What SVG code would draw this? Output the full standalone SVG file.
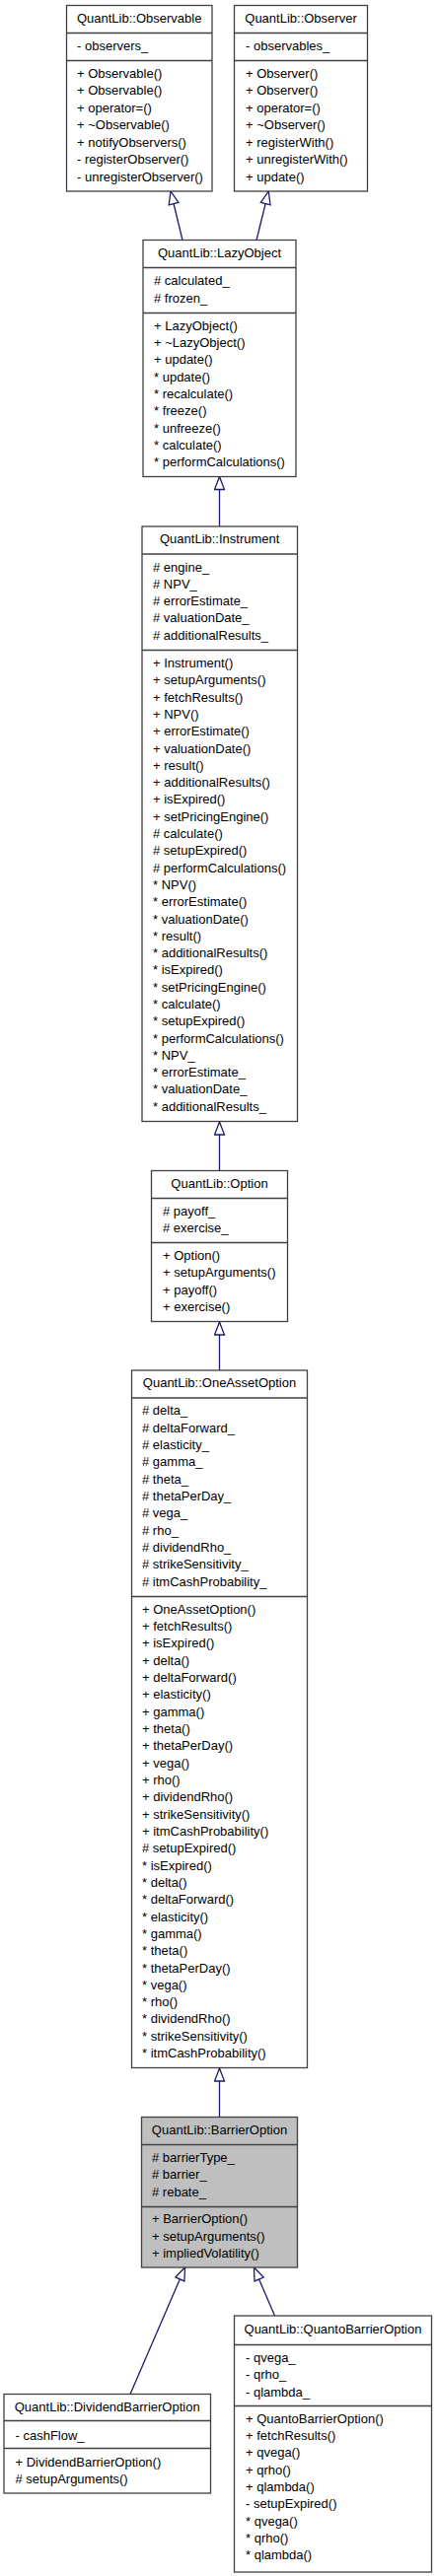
<svg xmlns="http://www.w3.org/2000/svg" width="443" height="2613" viewBox="0 0 443 2613">
<style>
.box{fill:#ffffff;stroke:#404040;stroke-width:1.3}
.hl{fill:#bfbfbf}
.sep{stroke:#404040;stroke-width:1.3}
text{font-family:"Liberation Sans",Arial,sans-serif;font-size:13px;fill:#000000}
.t{text-anchor:middle}
.edge{stroke:#191970;stroke-width:1.3;fill:none;marker-end:url(#inh)}
</style>
<defs>
<marker id="inh" markerUnits="userSpaceOnUse" viewBox="-1 -1 16 12" markerWidth="16" markerHeight="12" refX="13" refY="5" orient="auto">
<path d="M0,0 L13,5 L0,10 Z" fill="#ffffff" stroke="#191970" stroke-width="1.3"/>
</marker>
</defs>
<rect width="443" height="2613" fill="#ffffff"/>
<g id="connectors">
<path class="edge" d="M185,243.5 L173,194"/>
<path class="edge" d="M260,243.5 L272.3,194"/>
<path class="edge" d="M222.5,534 L222.5,483.5"/>
<path class="edge" d="M222.5,1187.5 L222.5,1138"/>
<path class="edge" d="M222.5,1390 L222.5,1341"/>
<path class="edge" d="M222.5,2147.5 L222.5,2098"/>
<path class="edge" d="M132,2428.5 L187.5,2300"/>
<path class="edge" d="M278.5,2349 L257.5,2300"/>
</g>
<g id="Observable">
<rect class="box" x="67.5" y="5.5" width="147.5" height="188.5"/>
<line class="sep" x1="67.5" y1="33.5" x2="215" y2="33.5"/>
<line class="sep" x1="67.5" y1="61.5" x2="215" y2="61.5"/>
<text class="t" x="141.2" y="23">QuantLib::Observable</text>
<text x="78" y="51">- observers_</text>
<text x="78" y="78.5">+ Observable()<tspan x="78" dy="17.5">+ Observable()</tspan><tspan x="78" dy="17.5">+ operator=()</tspan><tspan x="78" dy="17.5">+ ~Observable()</tspan><tspan x="78" dy="17.5">+ notifyObservers()</tspan><tspan x="78" dy="17.5">- registerObserver()</tspan><tspan x="78" dy="17.5">- unregisterObserver()</tspan></text>
</g>
<g id="Observer">
<rect class="box" x="237.5" y="5.5" width="135" height="188.5"/>
<line class="sep" x1="237.5" y1="33.5" x2="372.5" y2="33.5"/>
<line class="sep" x1="237.5" y1="61.5" x2="372.5" y2="61.5"/>
<text class="t" x="305" y="23">QuantLib::Observer</text>
<text x="249" y="51">- observables_</text>
<text x="249" y="78.5">+ Observer()<tspan x="249" dy="17.5">+ Observer()</tspan><tspan x="249" dy="17.5">+ operator=()</tspan><tspan x="249" dy="17.5">+ ~Observer()</tspan><tspan x="249" dy="17.5">+ registerWith()</tspan><tspan x="249" dy="17.5">+ unregisterWith()</tspan><tspan x="249" dy="17.5">+ update()</tspan></text>
</g>
<g id="LazyObject">
<rect class="box" x="145" y="243.5" width="155" height="240"/>
<line class="sep" x1="145" y1="271.5" x2="300" y2="271.5"/>
<line class="sep" x1="145" y1="317.5" x2="300" y2="317.5"/>
<text class="t" x="222.5" y="260.5">QuantLib::LazyObject</text>
<text x="156" y="289"># calculated_<tspan x="156" dy="17.5"># frozen_</tspan></text>
<text x="156" y="334.5">+ LazyObject()<tspan x="156" dy="17.35">+ ~LazyObject()</tspan><tspan x="156" dy="17.35">+ update()</tspan><tspan x="156" dy="17.35">* update()</tspan><tspan x="156" dy="17.35">* recalculate()</tspan><tspan x="156" dy="17.35">* freeze()</tspan><tspan x="156" dy="17.35">* unfreeze()</tspan><tspan x="156" dy="17.35">* calculate()</tspan><tspan x="156" dy="17.35">* performCalculations()</tspan></text>
</g>
<g id="Instrument">
<rect class="box" x="144" y="534" width="157.5" height="603.5"/>
<line class="sep" x1="144" y1="562" x2="301.5" y2="562"/>
<line class="sep" x1="144" y1="659.5" x2="301.5" y2="659.5"/>
<text class="t" x="222.7" y="551">QuantLib::Instrument</text>
<text x="155" y="579.5"># engine_<tspan x="155" dy="17.3"># NPV_</tspan><tspan x="155" dy="17.3"># errorEstimate_</tspan><tspan x="155" dy="17.3"># valuationDate_</tspan><tspan x="155" dy="17.3"># additionalResults_</tspan></text>
<text x="155" y="677">+ Instrument()<tspan x="155" dy="17.3">+ setupArguments()</tspan><tspan x="155" dy="17.3">+ fetchResults()</tspan><tspan x="155" dy="17.3">+ NPV()</tspan><tspan x="155" dy="17.3">+ errorEstimate()</tspan><tspan x="155" dy="17.3">+ valuationDate()</tspan><tspan x="155" dy="17.3">+ result()</tspan><tspan x="155" dy="17.3">+ additionalResults()</tspan><tspan x="155" dy="17.3">+ isExpired()</tspan><tspan x="155" dy="17.3">+ setPricingEngine()</tspan><tspan x="155" dy="17.3"># calculate()</tspan><tspan x="155" dy="17.3"># setupExpired()</tspan><tspan x="155" dy="17.3"># performCalculations()</tspan><tspan x="155" dy="17.3">* NPV()</tspan><tspan x="155" dy="17.3">* errorEstimate()</tspan><tspan x="155" dy="17.3">* valuationDate()</tspan><tspan x="155" dy="17.3">* result()</tspan><tspan x="155" dy="17.3">* additionalResults()</tspan><tspan x="155" dy="17.3">* isExpired()</tspan><tspan x="155" dy="17.3">* setPricingEngine()</tspan><tspan x="155" dy="17.3">* calculate()</tspan><tspan x="155" dy="17.3">* setupExpired()</tspan><tspan x="155" dy="17.3">* performCalculations()</tspan><tspan x="155" dy="17.3">* NPV_</tspan><tspan x="155" dy="17.3">* errorEstimate_</tspan><tspan x="155" dy="17.3">* valuationDate_</tspan><tspan x="155" dy="17.3">* additionalResults_</tspan></text>
</g>
<g id="Option">
<rect class="box" x="153.5" y="1187.5" width="138" height="153"/>
<line class="sep" x1="153.5" y1="1215.5" x2="291.5" y2="1215.5"/>
<line class="sep" x1="153.5" y1="1260.5" x2="291.5" y2="1260.5"/>
<text class="t" x="222.5" y="1204.5">QuantLib::Option</text>
<text x="165" y="1233"># payoff_<tspan x="165" dy="17.3"># exercise_</tspan></text>
<text x="165" y="1278">+ Option()<tspan x="165" dy="17.33">+ setupArguments()</tspan><tspan x="165" dy="17.33">+ payoff()</tspan><tspan x="165" dy="17.33">+ exercise()</tspan></text>
</g>
<g id="OneAssetOption">
<rect class="box" x="133.5" y="1390" width="178" height="707.5"/>
<line class="sep" x1="133.5" y1="1418" x2="311.5" y2="1418"/>
<line class="sep" x1="133.5" y1="1619.5" x2="311.5" y2="1619.5"/>
<text class="t" x="222.5" y="1407">QuantLib::OneAssetOption</text>
<text x="144" y="1435.2"># delta_<tspan x="144" dy="17.35"># deltaForward_</tspan><tspan x="144" dy="17.35"># elasticity_</tspan><tspan x="144" dy="17.35"># gamma_</tspan><tspan x="144" dy="17.35"># theta_</tspan><tspan x="144" dy="17.35"># thetaPerDay_</tspan><tspan x="144" dy="17.35"># vega_</tspan><tspan x="144" dy="17.35"># rho_</tspan><tspan x="144" dy="17.35"># dividendRho_</tspan><tspan x="144" dy="17.35"># strikeSensitivity_</tspan><tspan x="144" dy="17.35"># itmCashProbability_</tspan></text>
<text x="144" y="1636.8">+ OneAssetOption()<tspan x="144" dy="17.32">+ fetchResults()</tspan><tspan x="144" dy="17.32">+ isExpired()</tspan><tspan x="144" dy="17.32">+ delta()</tspan><tspan x="144" dy="17.32">+ deltaForward()</tspan><tspan x="144" dy="17.32">+ elasticity()</tspan><tspan x="144" dy="17.32">+ gamma()</tspan><tspan x="144" dy="17.32">+ theta()</tspan><tspan x="144" dy="17.32">+ thetaPerDay()</tspan><tspan x="144" dy="17.32">+ vega()</tspan><tspan x="144" dy="17.32">+ rho()</tspan><tspan x="144" dy="17.32">+ dividendRho()</tspan><tspan x="144" dy="17.32">+ strikeSensitivity()</tspan><tspan x="144" dy="17.32">+ itmCashProbability()</tspan><tspan x="144" dy="17.32"># setupExpired()</tspan><tspan x="144" dy="17.32">* isExpired()</tspan><tspan x="144" dy="17.32">* delta()</tspan><tspan x="144" dy="17.32">* deltaForward()</tspan><tspan x="144" dy="17.32">* elasticity()</tspan><tspan x="144" dy="17.32">* gamma()</tspan><tspan x="144" dy="17.32">* theta()</tspan><tspan x="144" dy="17.32">* thetaPerDay()</tspan><tspan x="144" dy="17.32">* vega()</tspan><tspan x="144" dy="17.32">* rho()</tspan><tspan x="144" dy="17.32">* dividendRho()</tspan><tspan x="144" dy="17.32">* strikeSensitivity()</tspan><tspan x="144" dy="17.32">* itmCashProbability()</tspan></text>
</g>
<g id="BarrierOption">
<rect class="box hl" x="143.5" y="2147.5" width="158" height="152.5"/>
<line class="sep" x1="143.5" y1="2175.5" x2="301.5" y2="2175.5"/>
<line class="sep" x1="143.5" y1="2238.5" x2="301.5" y2="2238.5"/>
<text class="t" x="222.5" y="2164.8">QuantLib::BarrierOption</text>
<text x="154" y="2192.8"># barrierType_<tspan x="154" dy="17.35"># barrier_</tspan><tspan x="154" dy="17.35"># rebate_</tspan></text>
<text x="154" y="2255.2">+ BarrierOption()<tspan x="154" dy="17.3">+ setupArguments()</tspan><tspan x="154" dy="17.3">+ impliedVolatility()</tspan></text>
</g>
<g id="DividendBarrierOption">
<rect class="box" x="4" y="2428.5" width="209.5" height="100.5"/>
<line class="sep" x1="4" y1="2455.5" x2="213.5" y2="2455.5"/>
<line class="sep" x1="4" y1="2483.5" x2="213.5" y2="2483.5"/>
<text class="t" x="108.7" y="2445.5">QuantLib::DividendBarrierOption</text>
<text x="15.5" y="2474.5">- cashFlow_</text>
<text x="15.5" y="2501.8">+ DividendBarrierOption()<tspan x="15.5" dy="17.35"># setupArguments()</tspan></text>
</g>
<g id="QuantoBarrierOption">
<rect class="box" x="237.5" y="2349" width="200" height="260"/>
<line class="sep" x1="237.5" y1="2378.5" x2="437.5" y2="2378.5"/>
<line class="sep" x1="237.5" y1="2440.5" x2="437.5" y2="2440.5"/>
<text class="t" x="337.5" y="2367.2">QuantLib::QuantoBarrierOption</text>
<text x="249" y="2396.2">- qvega_<tspan x="249" dy="17.2">- qrho_</tspan><tspan x="249" dy="17.2">- qlambda_</tspan></text>
<text x="249" y="2457.8">+ QuantoBarrierOption()<tspan x="249" dy="17.33">+ fetchResults()</tspan><tspan x="249" dy="17.33">+ qvega()</tspan><tspan x="249" dy="17.33">+ qrho()</tspan><tspan x="249" dy="17.33">+ qlambda()</tspan><tspan x="249" dy="17.33">- setupExpired()</tspan><tspan x="249" dy="17.33">* qvega()</tspan><tspan x="249" dy="17.33">* qrho()</tspan><tspan x="249" dy="17.33">* qlambda()</tspan></text>
</g>
</svg>
